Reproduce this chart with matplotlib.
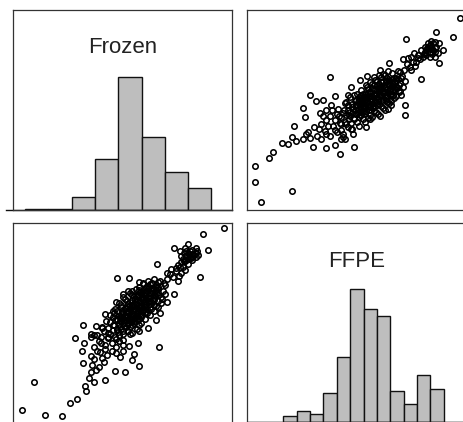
import matplotlib
matplotlib.use('Agg')
import matplotlib.pyplot as plt
import numpy as np

# ---- data (arbitrary units, 0-100 = panel range) ----
frozen_bin_edges = [5.3, 15.95, 26.6, 37.25, 47.9, 58.55, 69.2, 79.85, 90.5]
frozen_counts = [1, 1, 13, 51, 133, 73, 38, 22]
ffpe_bin_edges = [16.7, 22.8, 28.9, 35.0, 41.1, 47.3, 53.4, 59.5, 65.6, 71.7, 77.8, 83.9, 90.0]
ffpe_counts = [3, 6, 4, 16, 36, 74, 63, 59, 17, 10, 26, 18]

ffpe_outer = [3.7, 4.0, 6.7, 20.8, 10.2, 12.0, 16.3, 18.9, 20.7, 22.6,
              25.7, 26.9, 28.0, 30.4, 36.0, 40.1, 42.9, 42.4, 49.2, 25.7,
              26.4, 28.7, 31.8, 34.8, 38.2, 21.6, 30.6, 33.3, 36.0, 33.7,
              32.8, 35.6, 40.1, 44.0, 44.7, 48.5, 47.7, 54.6, 56.1, 60.7,
              64.5, 66.0, 70.6, 72.4, 72.4, 72.9, 79.7, 86.5, 94.4, 97.5,
              89.6, 87.6, 85.8, 84.0, 82.8, 81.2, 77.4, 76.6, 73.6, 74.4,
              71.3, 69.0, 70.6, 64.8, 60.7, 64.5, 68.3, 66.0, 62.2, 58.4,
              55.1, 51.6, 47.7, 46.2, 40.1, 38.6, 41.6, 44.7]
frozen_outer = [22.2, 14.3, 4.1, 9.6, 25.9, 29.2, 33.4, 32.9, 36.7, 34.6,
                35.7, 37.9, 39.0, 31.6, 31.3, 32.4, 35.4, 28.0, 31.6, 51.0,
                46.6, 57.6, 54.4, 54.9, 66.4, 42.0, 41.5, 48.6, 49.9, 35.7,
                40.7, 39.5, 40.0, 36.7, 35.4, 37.9, 40.4, 41.7, 45.3, 47.0,
                50.3, 54.4, 57.6, 52.7, 47.3, 85.2, 65.4, 88.7, 86.5, 96.0,
                79.9, 73.3, 76.3, 84.5, 81.5, 78.2, 74.1, 78.2, 75.8, 71.6,
                75.3, 69.2, 65.9, 73.3, 70.0, 69.2, 65.0, 60.9, 59.3, 65.0,
                67.0, 65.0, 61.4, 57.6, 56.8, 52.7, 50.3, 53.5]

ffpe_upper = [82.0, 83.6, 85.1, 84.3, 82.0, 80.5, 79.0, 85.8, 82.8, 85.1,
              86.5, 87.4, 79.7, 78.2, 75.9, 75.2, 83.6, 81.3, 85.8, 87.7,
              83.0, 84.5, 81.5, 86.0, 83.8, 80.8, 82.5, 84.8]
frozen_upper = [79.9, 79.0, 79.9, 81.5, 77.4, 76.6, 75.3, 79.0, 83.2, 83.2,
                81.5, 78.2, 79.9, 77.4, 74.1, 76.6, 76.6, 81.5, 84.0, 83.2,
                80.5, 80.2, 78.8, 80.6, 82.3, 78.0, 81.0, 77.8]

ffpe_mid = [70, 72, 73, 75, 77, 78, 36, 38, 37, 39, 35, 34, 36, 38, 32, 29]
frozen_mid = [69, 70, 73, 70, 72, 76, 45, 47, 42, 50, 47, 43, 38, 37, 37, 36]

ffpe_core = [40.3, 41.2, 42.6, 43.1, 44.4, 44.8, 45.5, 46.2, 46.7, 47.3,
             47.6, 48.2, 48.9, 49.3, 49.7, 50.4, 50.8, 51.2, 51.6, 52.1,
             52.4, 53.3, 53.7, 54.1, 54.6, 55.2, 55.7, 56.1, 56.5, 57.2,
             57.5, 58.1, 58.6, 59.2, 59.4, 60.1, 60.6, 61.2, 61.5, 62.1,
             62.4, 63.1, 63.5, 64.2, 64.7, 65.1, 65.6, 66.2, 66.6, 67.1,
             67.4, 68.2, 69.1, 69.4, 70.2, 71.0, 71.3, 72.1, 45.2, 47.1,
             50.2, 52.1, 54.3, 56.1, 58.2, 60.3, 48.1, 51.2, 54.1, 57.2,
             60.1, 63.2, 66.1, 43.2, 46.1, 39.2, 41.3, 44.1, 53.2, 55.1,
             57.1, 59.3, 61.2, 62.1, 49.2, 51.1, 53.2, 55.3, 57.4, 59.1,
             61.2, 63.3, 65.1, 62.4, 64.2, 58.1, 56.2, 54.3, 52.2, 50.1,
             48.3, 46.2, 44.1, 42.3, 50.2, 52.4, 54.1, 56.3, 58.2, 60.1,
             62.2, 64.1, 66.3, 68.1, 53.2, 55.1, 57.3, 59.2, 61.1, 63.4,
             49.1, 51.3, 45.2, 43.1, 47.3, 55.2, 58.1, 61.3, 64.2, 67.1,
             70.1, 68.3, 66.2, 65.1, 63.2, 60.4, 58.1, 56.3, 54.2, 52.1]
frozen_core = [45.2, 48.1, 43.4, 46.3, 50.2, 44.1, 47.6, 52.3, 45.4, 49.2,
               43.3, 51.5, 46.2, 54.4, 48.1, 44.2, 50.6, 53.1, 47.4, 56.2,
               50.3, 45.6, 52.2, 55.1, 49.3, 58.4, 52.1, 47.3, 54.5, 57.2,
               51.3, 60.2, 54.4, 49.1, 56.3, 59.5, 53.2, 62.1, 56.4, 51.2,
               58.3, 61.4, 55.1, 64.2, 58.5, 53.3, 60.1, 63.2, 57.4, 66.1,
               60.4, 62.1, 65.3, 59.2, 63.4, 67.1, 61.3, 64.2, 54.1, 56.3,
               58.2, 60.1, 62.3, 64.1, 66.2, 67.4, 40.3, 42.2, 44.1, 46.3,
               48.2, 50.1, 52.3, 40.2, 41.3, 42.1, 39.2, 38.3, 58.1, 61.2,
               63.1, 64.3, 66.2, 68.1, 57.3, 55.2, 54.1, 56.3, 55.2, 58.1,
               60.3, 59.1, 62.2, 64.3, 66.1, 62.4, 59.2, 58.1, 57.3, 55.2,
               53.1, 50.2, 48.4, 47.1, 52.3, 53.2, 51.1, 51.4, 52.2, 55.3,
               55.4, 57.1, 59.3, 57.2, 49.1, 50.3, 53.2, 54.1, 57.3, 57.1,
               45.3, 49.1, 43.2, 43.1, 47.2, 46.1, 49.3, 52.1, 54.2, 56.1,
               59.3, 66.1, 68.2, 65.1, 67.3, 63.1, 58.2, 57.1, 53.2, 47.3]

ffpe_dense = [48.5, 49.8, 50.9, 51.8, 52.7, 53.6, 54.8, 55.4, 56.8, 57.9,
              58.8, 59.8, 60.7, 61.8, 62.8, 63.9, 64.6, 65.8, 66.9, 67.8,
              50.6, 52.9, 54.6, 56.4, 58.6, 60.9, 62.6, 64.9, 53.8, 55.9,
              57.8, 59.7, 61.7, 63.6, 65.4, 47.9, 46.8, 49.6, 51.4, 52.6,
              57.3, 59.4, 55.6, 61.4, 63.7, 66.4, 68.6, 69.7, 53.4, 51.6]
frozen_dense = [50.5, 52.6, 48.7, 51.8, 55.4, 50.9, 54.6, 52.9, 55.9, 57.6,
                55.3, 60.8, 57.9, 59.4, 62.6, 60.3, 62.9, 58.1, 61.7, 63.9,
                53.9, 51.9, 56.7, 58.6, 59.8, 61.4, 60.7, 63.8, 48.6, 49.8,
                50.9, 52.6, 54.3, 56.2, 57.7, 48.6, 47.4, 50.1, 46.3, 49.3,
                61.1, 62.3, 60.2, 64.1, 64.6, 65.3, 60.9, 62.2, 56.6, 57.1]

ffpe = ffpe_outer + ffpe_upper + ffpe_mid + ffpe_core + ffpe_dense
frozen = frozen_outer + frozen_upper + frozen_mid + frozen_core + frozen_dense

labels = ['Frozen', 'FFPE']

# ---- figure ----
W, H = 463, 422
fig = plt.figure(figsize=(W / 100, H / 100), dpi=100)
fig.patch.set_facecolor('white')


def ax_px(l, t, r, b):
    return fig.add_axes([l / W, 1 - b / H, (r - l) / W, (b - t) / H])


ax_tl = ax_px(13.3, 9.5, 232.3, 210.5)
ax_tr = ax_px(246.7, 9.5, 465.7, 210.5)
ax_bl = ax_px(13.3, 223, 232.3, 423.5)
ax_br = ax_px(246.7, 223, 465.7, 421.5)

for ax in (ax_tl, ax_tr, ax_bl, ax_br):
    ax.set_xticks([])
    ax.set_yticks([])
    ax.set_xlim(0, 100)
    for s in ax.spines.values():
        s.set_linewidth(0.9)
        s.set_color('#333333')

bar_kw = dict(align='edge', color='#bebebe', edgecolor='#111111', linewidth=1.0)
txt_kw = dict(ha='center', va='baseline', fontsize=16, family='Liberation Sans', color='#222222')

# Frozen histogram
fe = np.array(frozen_bin_edges)
ax_tl.bar(fe[:-1], frozen_counts, width=np.diff(fe), **bar_kw)
ax_tl.set_ylim(0, 1.5 * max(frozen_counts))
ax_tl.plot([-3.3, 100], [0, 0], color='#111111', lw=1.0, clip_on=False)
ax_tl.text(0.5, 0.786, labels[0], transform=ax_tl.transAxes, **txt_kw)

# FFPE histogram
pe = np.array(ffpe_bin_edges)
ax_br.bar(pe[:-1], ffpe_counts, width=np.diff(pe), **bar_kw)
ax_br.set_ylim(0, 1.5 * max(ffpe_counts))
ax_br.axhline(0, color='#111111', lw=1.0)
ax_br.text(0.5, 0.78, labels[1], transform=ax_br.transAxes, **txt_kw)

# scatter panels
sc_kw = dict(linestyle='none', marker='o', markersize=3.9, markerfacecolor='none',
             markeredgecolor='black', markeredgewidth=1.15)
ax_tr.plot(ffpe, frozen, **sc_kw)
ax_tr.set_ylim(0, 100)
ax_bl.plot(frozen, ffpe, **sc_kw)
ax_bl.set_ylim(0, 100)

fig.savefig('out.png', dpi=100)
